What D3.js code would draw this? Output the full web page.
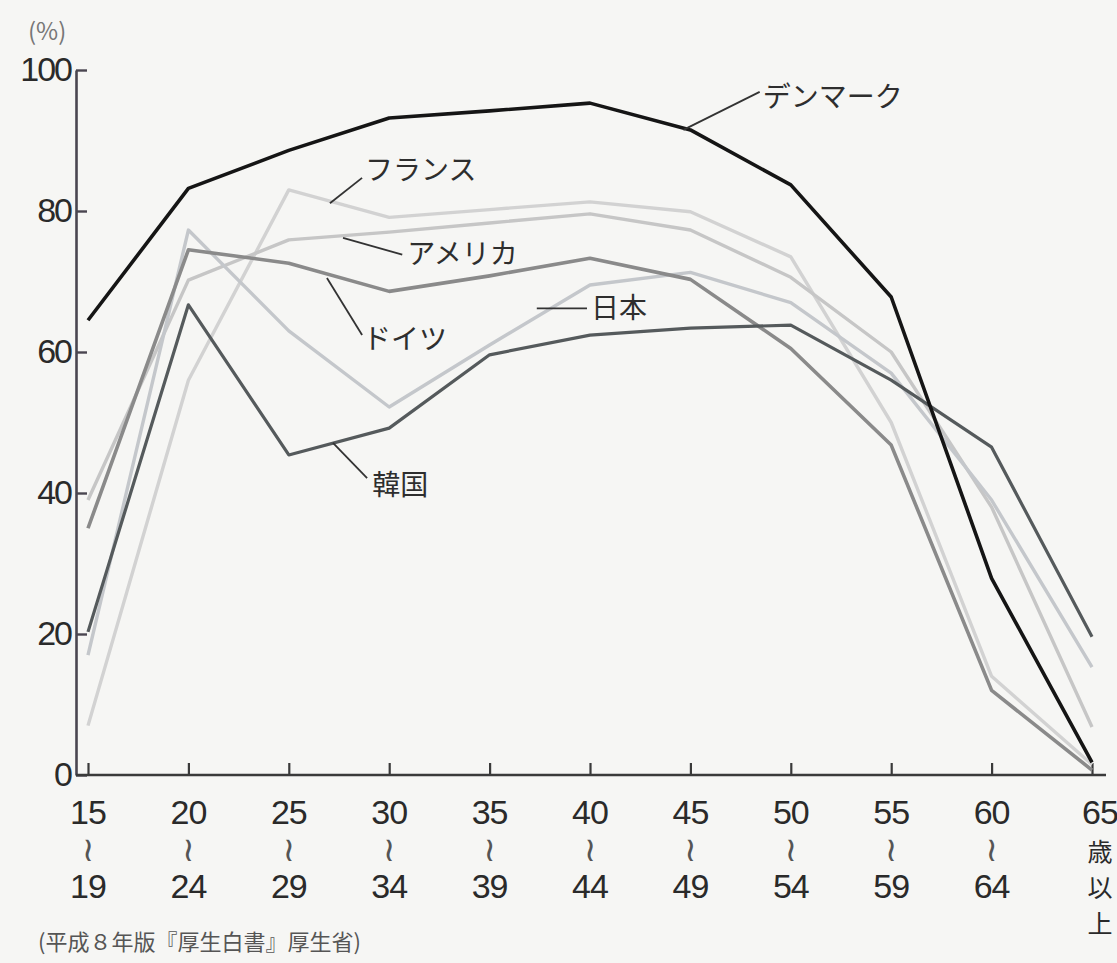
<!DOCTYPE html>
<html><head><meta charset="utf-8">
<script src="https://cdn.jsdelivr.net/npm/d3@7"></script>
<style>
html,body{margin:0;padding:0;background:#f6f6f4;}
svg{display:block;}
</style></head>
<body>
<svg id="chart" width="1117" height="963"></svg>
<script>
// ---- data ----
const ageStart = ["15","20","25","30","35","40","45","50","55","60","65"];
const ageEnd   = ["19","24","29","34","39","44","49","54","59","64",""];
const lastAgeSuffix = ["歳","以","上"];
const yTicks = [0,20,40,60,80,100];

const denmark = [64.5, 83.2, 88.6, 93.2, 94.2, 95.3, 91.5, 83.7, 67.8, 27.9, 1.8];
const france  = [7.0, 56.0, 83.0, 79.1, 80.2, 81.3, 79.9, 73.5, 50.0, 14.0, 1.5];
const america = [39.0, 70.2, 75.9, 77.0, 78.3, 79.6, 77.3, 70.6, 60.0, 38.0, 6.8];
const germany = [35.0, 74.5, 72.6, 68.6, 70.8, 73.3, 70.3, 60.5, 46.8, 12.0, 0.7];
const japan   = [17.0, 77.3, 63.0, 52.2, 61.0, 69.5, 71.3, 67.0, 57.0, 39.0, 15.3];
const korea   = [20.3, 66.7, 45.4, 49.2, 59.6, 62.4, 63.4, 63.8, 56.0, 46.5, 19.6];

const seriesNames = ["デンマーク","フランス","アメリカ","ドイツ","日本","韓国"];
const seriesValues = [denmark, france, america, germany, japan, korea];

// ---- styles ----
const colors = ["#151515","#d2d2d2","#c6c6c6","#8a8a8a","#c4c7cb","#555a5c"];
const widths = [3.6, 3.4, 3.4, 3.6, 3.4, 3.2];
const drawOrder = [1,2,4,3,5,0];

// annotation anchors in data space: [index, value]
const annLead = [
  [[5.93,91.5],[6.69,96.9]],
  [[2.41,81.1],[2.73,84.7]],
  [[2.54,76.2],[3.13,73.8]],
  [[2.38,70.5],[2.73,62.4]],
  [[4.47,66.2],[4.97,66.2]],
  [[2.44,47.1],[2.78,42.1]]
];
const annText = [[6.72,96.4],[2.76,86.1],[3.18,74.2],[2.74,62.1],[5.01,66.5],[2.83,41.4]];

const svg = d3.select("#chart");
const FONT = "'Liberation Sans', Arial, 'Noto Sans CJK JP', sans-serif";
const JFONT = "'Noto Sans CJK JP', 'Noto Sans', sans-serif";

const x = d3.scalePoint().domain(ageStart).range([88,1092]);
const xi = d3.scaleLinear().domain([0, ageStart.length-1]).range([88,1092]);
const y = d3.scaleLinear().domain([0,100]).range([775,70]);

// y axis
const yAxis = d3.axisLeft(y).tickValues(yTicks).tickSizeInner(-11).tickSizeOuter(0).tickPadding(5);
const gy = svg.append("g").attr("transform","translate(76,0)").call(yAxis);
gy.select(".domain").attr("stroke","#4a4650").attr("stroke-width",2.6);
gy.selectAll(".tick line").attr("stroke","#4a4650").attr("stroke-width",2.4);
gy.selectAll(".tick text").attr("font-family",FONT).attr("font-size",34)
  .attr("fill","#2a2a2a").attr("letter-spacing","-2px");

// x axis
const xAxis = d3.axisBottom(x).tickSizeInner(-12).tickSizeOuter(0).tickFormat("");
const gx = svg.append("g").attr("transform","translate(0,775)").call(xAxis);
gx.select(".domain").remove();
gx.selectAll(".tick line").attr("stroke","#3a3a3a").attr("stroke-width",2.2);
gx.append("line").attr("x1",76).attr("x2",1106).attr("y1",0).attr("y2",0)
  .attr("stroke","#3a3a3a").attr("stroke-width",2.6);

// x tick labels
const xl = svg.append("g").attr("font-family",FONT).attr("fill","#2a2a2a");
ageStart.forEach((a,i)=>{
  const cx = x(a) + (i===ageStart.length-1 ? 8 : 0);
  xl.append("text").attr("x",cx).attr("y",824).attr("text-anchor","middle")
    .attr("font-size",34).attr("letter-spacing","-1px").text(a);
  if (ageEnd[i]) {
    xl.append("text").attr("x",cx).attr("y",861).attr("text-anchor","middle")
      .attr("font-family","'DejaVu Sans', sans-serif").attr("font-size",34).attr("fill","#555").text("≀");
    xl.append("text").attr("x",cx).attr("y",898).attr("text-anchor","middle")
      .attr("font-size",34).attr("letter-spacing","-1px").text(ageEnd[i]);
  } else {
    lastAgeSuffix.forEach((c,k)=>{
      xl.append("text").attr("x",cx).attr("y",861+k*36).attr("text-anchor","middle")
        .attr("font-family",JFONT).attr("font-size",25).text(c);
    });
  }
});

// unit
svg.append("text").attr("x",28).attr("y",40).attr("font-family",JFONT)
  .attr("font-size",24).attr("fill","#777").text("(%)");

// source
svg.append("text").attr("x",38).attr("y",950).attr("font-family",JFONT)
  .attr("font-size",22).attr("fill","#555").text("(平成８年版『厚生白書』厚生省)");

// lines
const line = d3.line().x((d,i)=>x(ageStart[i])).y(d=>y(d));
drawOrder.forEach(s=>{
  svg.append("path").datum(seriesValues[s]).attr("d",line)
    .attr("fill","none").attr("stroke",colors[s]).attr("stroke-width",widths[s])
    .attr("stroke-linejoin","round");
});

// annotations
const ann = svg.append("g");
seriesNames.forEach((n,s)=>{
  const [a,b] = annLead[s];
  ann.append("line").attr("x1",xi(a[0])).attr("y1",y(a[1])).attr("x2",xi(b[0])).attr("y2",y(b[1]))
    .attr("stroke","#333").attr("stroke-width",1.8);
  ann.append("text").attr("x",xi(annText[s][0])).attr("y",y(annText[s][1]))
    .attr("dominant-baseline","central").attr("font-family",JFONT).attr("font-size",28)
    .attr("fill","#2e2e2e").text(n);
});
</script>
</body></html>
